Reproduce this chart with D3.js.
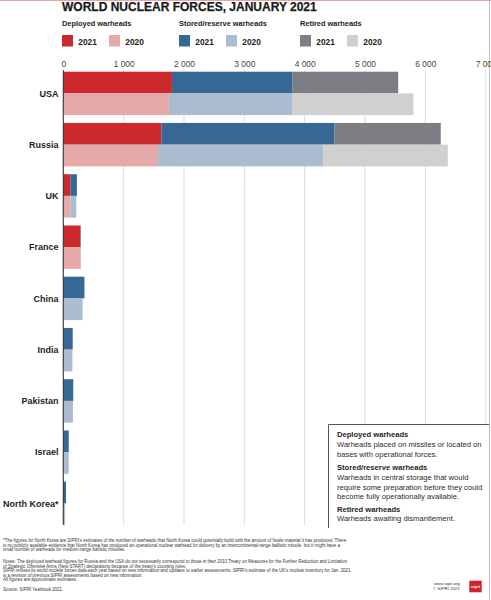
<!DOCTYPE html>
<html><head><meta charset="utf-8">
<script src="https://cdn.jsdelivr.net/npm/d3@7"></script>
<style>html,body{margin:0;padding:0;background:#fff;}svg{display:block;}</style>
</head><body>
<script>
// ---- data ----
const countries = ["USA","Russia","UK","France","China","India","Pakistan","Israel","North Korea*"];
const years = ["2021","2020"];
const deployed2021 = [1800,1625,120,280,0,0,0,0,0];
const stored2021   = [2000,2870,105,10,350,156,165,90,45];
const retired2021  = [1750,1760,0,0,0,0,0,0,0];
const deployed2020 = [1750,1570,120,290,0,0,0,0,0];
const stored2020   = [2050,2742,95,0,320,150,160,90,30];
const retired2020  = [2000,2060,0,0,0,0,0,0,0];
const tickValues = [0,1000,2000,3000,4000,5000,6000,7000];
const tickLabels = ["0","1 000","2 000","3 000","4 000","5 000","6 000","7 000"];
const categories = ["Deployed warheads","Stored/reserve warheads","Retired warheads"];
const keys = ["deployed","stored","retired"];
const colors = {
  deployed:{"2021":"#cc292d","2020":"#e6a9a9"},
  stored:{"2021":"#366795","2020":"#abbcd1"},
  retired:{"2021":"#7c7e83","2020":"#d0d0d0"}
};
const definitions = [
  {head:"Deployed warheads", lines:["Warheads placed on missiles or located on","bases with operational forces."]},
  {head:"Stored/reserve warheads", lines:["Warheads in central storage that would","require some preparation before they could","become fully operationally available."]},
  {head:"Retired warheads", lines:["Warheads awaiting dismantlement."]}
];
const footnotes = [
  "*The figures for North Korea are SIPRI's estimates of the number of warheads that North Korea could potentially build with the amount of fissile material it has produced. There",
  "is no publicly available evidence that North Korea has produced an operational nuclear warhead for delivery by an intercontinental-range ballistic missile, but it might have a",
  "small number of warheads for medium-range ballistic missiles.",
  "Notes: The deployed warhead figures for Russia and the USA do not necessarily correspond to those in their 2010 Treaty on Measures for the Further Reduction and Limitation",
  "of Strategic Offensive Arms (New START) declarations because of the treaty's counting rules.",
  "SIPRI revises its world nuclear forces data each year based on new information and updates to earlier assessments. SIPRI's estimate of the UK's nuclear inventory for Jan. 2021",
  "is a revision of previous SIPRI assessments based on new information.",
  "All figures are approximate estimates.",
  "Source: SIPRI Yearbook 2021."
];

// ---- build rows ----
const rows = [];
countries.forEach((c,i)=>{
  rows.push({country:c, year:"2021", deployed:deployed2021[i], stored:stored2021[i], retired:retired2021[i]});
  rows.push({country:c, year:"2020", deployed:deployed2020[i], stored:stored2020[i], retired:retired2020[i]});
});

const W = 491, H = 600;
const FONT = "'Liberation Sans', Arial, sans-serif";
const svg = d3.select("body").append("svg").attr("width",W).attr("height",H)
  .style("font-family",FONT);

// page frame
svg.append("line").attr("x1",0).attr("x2",W).attr("y1",0.5).attr("y2",0.5)
  .attr("stroke","#e9a3a3").attr("stroke-width",1.2);
svg.append("line").attr("x1",489.5).attr("x2",489.5).attr("y1",0).attr("y2",H)
  .attr("stroke","#bdbdbd").attr("stroke-width",1);

// title
svg.append("text").attr("x",62).attr("y",10.5).text("WORLD NUCLEAR FORCES, JANUARY 2021")
  .attr("font-size",12).attr("font-weight",900).attr("fill","#1a1a1a")
  .attr("stroke","#1a1a1a").attr("stroke-width",0.25);

// legend
const legX = [62,179,300];
const lg = svg.append("g");
categories.forEach((cat,i)=>{
  const g = lg.append("g").attr("transform",`translate(${legX[i]},0)`);
  g.append("text").attr("x",0).attr("y",25.5).text(cat)
    .attr("font-size",7.4).attr("font-weight",700).attr("fill","#222");
  years.forEach((y,j)=>{
    g.append("rect").attr("x",j*47).attr("y",35).attr("width",11).attr("height",11.5)
      .attr("fill",colors[keys[i]][y]);
    g.append("text").attr("x",j*47+16.3).attr("y",44.6).text(y)
      .attr("font-size",8.3).attr("font-weight",700).attr("fill","#222");
  });
});

// scales
const x = d3.scaleLinear().domain([0,7000]).range([63.3,485.7]);
const yBand = d3.scaleBand().domain(countries).range([71.7,525.1]).paddingInner(0.153).paddingOuter(0);
const ySub = d3.scaleBand().domain(years).range([0,yBand.bandwidth()]);
const gridTop = 70, gridBottom = 525;

// gridlines
svg.append("g").selectAll("line").data(tickValues.slice(1)).join("line")
  .attr("x1",d=>x(d)).attr("x2",d=>x(d)).attr("y1",gridTop).attr("y2",gridBottom)
  .attr("stroke","#dcdcdc").attr("stroke-width",1);

// top axis labels
const axis = d3.axisTop(x).tickValues(tickValues).tickFormat((d,i)=>tickLabels[i]).tickSize(0).tickPadding(0);
const ax = svg.append("g").attr("transform","translate(0,67)").call(axis);
ax.select(".domain").remove();
ax.selectAll("text").attr("font-size",8.4).attr("fill","#444").attr("font-family",FONT).attr("dy",0);

// stacked bars
const stack = d3.stack().keys(keys);
const series = stack(rows);
const barG = svg.append("g");
series.forEach(s=>{
  barG.append("g").selectAll("rect").data(s).join("rect")
    .attr("x",d=>x(d[0]))
    .attr("y",d=>yBand(d.data.country)+ySub(d.data.year))
    .attr("width",d=>Math.max(0,x(d[1])-x(d[0])))
    .attr("height",ySub.bandwidth())
    .attr("fill",d=>colors[s.key][d.data.year]);
});

// vertical axis line
svg.append("line").attr("x1",63.3).attr("x2",63.3).attr("y1",gridTop).attr("y2",gridBottom)
  .attr("stroke","#333").attr("stroke-width",1.1);

// country labels
svg.append("g").selectAll("text").data(countries).join("text")
  .attr("x",58.5).attr("y",d=>yBand(d)+yBand.bandwidth()/2+3.2)
  .attr("text-anchor","end").text(d=>d)
  .attr("font-size",9).attr("font-weight",700).attr("fill","#1e1e1e");

// definitions box
svg.append("rect").attr("x",328).attr("y",424).attr("width",161).attr("height",104).attr("fill","#fff");
svg.append("path").attr("d","M328.5,528 V424.5 H489").attr("fill","none").attr("stroke","#555").attr("stroke-width",1);
const defY = [[437,[447,456.5]],[470,[480,489.5,499]],[511.5,[521]]];
definitions.forEach((d,i)=>{
  svg.append("text").attr("x",337).attr("y",defY[i][0]).text(d.head)
    .attr("font-size",7.6).attr("font-weight",700).attr("fill","#1e1e1e");
  d.lines.forEach((l,j)=>{
    svg.append("text").attr("x",337).attr("y",defY[i][1][j]).text(l)
      .attr("font-size",7.6).attr("fill","#2a2a2a");
  });
});

// footnotes
const fnY = [542,546.5,551,563,567.5,572,576.5,581,591];
svg.append("g").selectAll("text").data(footnotes).join("text")
  .attr("x",3).attr("y",(d,i)=>fnY[i]).text(d=>d)
  .attr("font-size",4.45).attr("fill","#333");

// credits + logo
svg.append("text").attr("x",460).attr("y",585).attr("text-anchor","end").text("www.sipri.org")
  .attr("font-size",4.4).attr("fill","#333");
svg.append("text").attr("x",460).attr("y",590).attr("text-anchor","end").text("© SIPRI 2021")
  .attr("font-size",4.4).attr("fill","#333");
svg.append("rect").attr("x",469.3).attr("y",580.7).attr("width",12.4).attr("height",11.6).attr("fill","#d5212b");
svg.append("text").attr("x",475.5).attr("y",587.5).attr("text-anchor","middle").text("sipri")
  .attr("font-size",4.2).attr("font-weight",700).attr("fill","#fff");
</script>
</body></html>
